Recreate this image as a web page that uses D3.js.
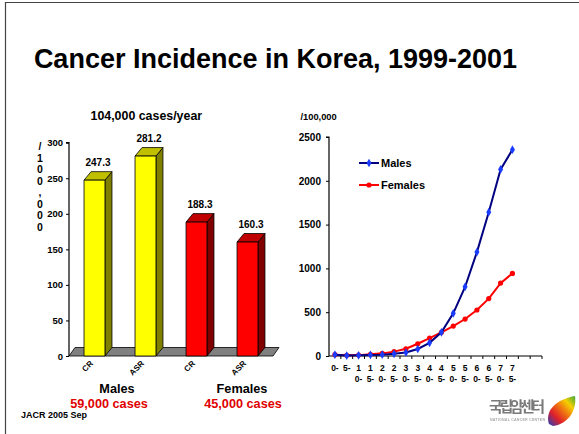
<!DOCTYPE html>
<html>
<head>
<meta charset="utf-8">
<script src="https://cdn.jsdelivr.net/npm/d3@7"></script>
<style>
  html, body { margin: 0; padding: 0; background: #fff; }
  svg { display: block; font-family: "Liberation Sans", Arial, sans-serif; font-weight: bold; }
</style>
</head>
<body>
<svg id="slide" width="579" height="434"></svg>
<script>
// ---- Bar chart data: crude rate (CR) and age-standardised rate (ASR) per 100,000
const barKeys = ["M-CR", "M-ASR", "F-CR", "F-ASR"];
const barLabels = ["CR", "ASR", "CR", "ASR"];
const barValues = [247.3, 281.2, 188.3, 160.3];
const barSex = ["m", "m", "f", "f"];
const barTicks = [0, 50, 100, 150, 200, 250, 300];

// ---- Line chart data: age-specific incidence per 100,000
const ageGroups = ["0-", "5-", "10-", "15-", "20-", "25-", "30-", "35-", "40-", "45-",
                   "50-", "55-", "60-", "65-", "70-", "75-", "80-", "85-"];
const ageLabels = ["0-", "5-", "10-", "15-", "20-", "25-", "30-", "35-", "40-", "45-",
                   "50-", "55-", "60-", "65-", "70-", "75-", "", ""];
const malesRate = [15, 5, 8, 12, 15, 25, 40, 80, 150, 270, 487, 790, 1186, 1642, 2130, 2355];
const femalesRate = [15, 8, 10, 20, 30, 50, 83, 140, 205, 270, 342, 422, 525, 655, 832, 943];
const lineTicks = [0, 500, 1000, 1500, 2000, 2500];

const svg = d3.select("#slide");
const FONT = "Liberation Sans, Arial, sans-serif";

// slide frame
svg.append("path").attr("d", "M5.5,434 V2.5 H579").attr("fill", "none")
  .attr("stroke", "#444").attr("stroke-width", 1.2);

// title
svg.append("text").attr("x", 275.5).attr("y", 68).attr("text-anchor", "middle")
  .attr("font-size", 27).text("Cancer Incidence in Korea, 1999-2001");

// =================== 3D bar chart ===================
const colors = {
  m: { front: "#ffff00", top: "#c0c000", side: "#808000" },
  f: { front: "#ff0000", top: "#c00000", side: "#800000" }
};
const DX = 7, DY = -8.5;
const xb = d3.scaleBand().domain(barKeys).range([69, 273]).paddingInner(0.59).paddingOuter(0.295);
const yb = d3.scaleLinear().domain([0, 300]).range([356, 142.7]);
const base = yb(0);

const bars = svg.append("g");
// floor
bars.append("path")
  .attr("d", `M${xb.range()[0]},${base} L${xb.range()[0] + DX - 1},${base + DY} L${xb.range()[1] + DX - 1},${base + DY} L${xb.range()[1]},${base} Z`)
  .attr("fill", "#808080").attr("stroke", "#000").attr("stroke-width", 0.8);

barKeys.forEach((k, i) => {
  const x0 = xb(k), x1 = x0 + xb.bandwidth(), yt = yb(barValues[i]);
  const c = colors[barSex[i]];
  const g = bars.append("g").attr("stroke", "#000").attr("stroke-width", 0.8).attr("stroke-linejoin", "round");
  g.append("path").attr("fill", c.side)
    .attr("d", `M${x1},${yt} L${x1 + DX},${yt + DY} L${x1 + DX},${base + DY} L${x1},${base} Z`);
  g.append("path").attr("fill", c.top)
    .attr("d", `M${x0},${yt} L${x0 + DX},${yt + DY} L${x1 + DX},${yt + DY} L${x1},${yt} Z`);
  g.append("rect").attr("fill", c.front)
    .attr("x", x0).attr("y", yt).attr("width", x1 - x0).attr("height", base - yt);
  // value label
  bars.append("text").attr("x", (x0 + x1) / 2 + 3.5).attr("y", yt - 14)
    .attr("text-anchor", "middle").attr("font-size", 10).text(barValues[i].toFixed(1));
  // category label
  const cx = (x0 + x1) / 2 - 1;
  bars.append("text").attr("transform", `translate(${cx},${base + 8}) rotate(-45)`)
    .attr("text-anchor", "end").attr("font-size", 8).text(barLabels[i]);
});

// y axis
const yAxisB = d3.axisLeft(yb).tickValues(barTicks).tickFormat(d3.format("d")).tickSize(3).tickPadding(3);
const gyb = svg.append("g").attr("transform", "translate(69,0)").call(yAxisB);
gyb.select(".domain").attr("stroke", "#000").attr("stroke-width", 1.2).attr("d", `M-3,${yb(300)}H0V${base}`);
gyb.selectAll("text").attr("font-size", 9.5).attr("font-family", FONT).attr("font-weight", "bold").attr("fill", "#000");
gyb.selectAll("line").attr("stroke", "#000");

// vertical unit label
const unitChars = ["/", "1", "0", "0", ",", "0", "0", "0"];
svg.append("g").selectAll("text").data(unitChars).join("text")
  .attr("x", 40).attr("y", (d, i) => 150 + i * 11.5)
  .attr("text-anchor", "middle").attr("font-size", 10.5).text(d => d);

svg.append("text").attr("x", 146.3).attr("y", 120).attr("text-anchor", "middle")
  .attr("font-size", 12.4).text("104,000 cases/year");

svg.append("text").attr("x", 117).attr("y", 393).attr("text-anchor", "middle").attr("font-size", 12.7).text("Males");
svg.append("text").attr("x", 109).attr("y", 408).attr("text-anchor", "middle").attr("font-size", 12.7)
  .attr("fill", "#e00000").text("59,000 cases");
svg.append("text").attr("x", 242).attr("y", 393).attr("text-anchor", "middle").attr("font-size", 12.7).text("Females");
svg.append("text").attr("x", 243).attr("y", 408).attr("text-anchor", "middle").attr("font-size", 12.7)
  .attr("fill", "#e00000").text("45,000 cases");

svg.append("text").attr("x", 21).attr("y", 418).attr("font-size", 9).text("JACR 2005 Sep");

// =================== Age-specific line chart ===================
const xl = d3.scaleBand().domain(ageGroups).range([329, 542]);
const yl = d3.scaleLinear().domain([0, 2500]).range([356, 137]);
const cxl = d => xl(d) + xl.bandwidth() / 2;

const gyl = svg.append("g").attr("transform", "translate(329,0)")
  .call(d3.axisLeft(yl).tickValues(lineTicks).tickFormat(d3.format("d")).tickSize(3).tickPadding(5));
gyl.select(".domain").attr("stroke", "#000").attr("stroke-width", 1.2).attr("d", `M-3,${yl(2500)}H0V${yl(0)}`);
gyl.selectAll("line").attr("stroke", "#000");
gyl.selectAll("text").attr("font-size", 10).attr("font-family", FONT).attr("font-weight", "bold").attr("fill", "#000");

// x axis with ticks on category boundaries
const xAxisG = svg.append("g");
xAxisG.append("line").attr("x1", 329).attr("x2", 542).attr("y1", yl(0)).attr("y2", yl(0))
  .attr("stroke", "#000").attr("stroke-width", 1.2);
xAxisG.selectAll("line.tk").data(ageGroups).join("line").attr("class", "tk")
  .attr("x1", d => xl(d) + xl.bandwidth()).attr("x2", d => xl(d) + xl.bandwidth())
  .attr("y1", yl(0)).attr("y2", yl(0) + 3).attr("stroke", "#000");
const xt = xAxisG.selectAll("text").data(ageGroups).join("text")
  .attr("text-anchor", "middle").attr("font-size", 8.5);
xt.each(function (d, i) {
  const lab = ageLabels[i];
  const t = d3.select(this);
  if (!lab) return;
  if (lab.length <= 2) {
    t.append("tspan").attr("x", cxl(d)).attr("y", 371).text(lab);
  } else {
    t.append("tspan").attr("x", cxl(d)).attr("y", 371).text(lab.slice(0, 1));
    t.append("tspan").attr("x", cxl(d)).attr("y", 381.5).text(lab.slice(1));
  }
});

svg.append("text").attr("x", 300.5).attr("y", 120).attr("font-size", 9.3).text("/100,000");

const line = d3.line().x((v, i) => cxl(ageGroups[i])).y(v => yl(v));
const diamond = d3.symbol().type(d3.symbolDiamond).size(22);

const series = [
  { name: "Males", values: malesRate, stroke: "#000080", marker: "#1a3cff", sym: "diamond", ly: 163 },
  { name: "Females", values: femalesRate, stroke: "#ff0000", marker: "#ff0000", sym: "circle", ly: 185 }
];
series.slice().reverse().forEach(s => {
  svg.append("path").datum(s.values).attr("d", line).attr("fill", "none")
    .attr("stroke", s.stroke).attr("stroke-width", 2);
  const pts = svg.append("g");
  s.values.forEach((v, i) => {
    if (s.sym === "diamond") {
      pts.append("path").attr("d", diamond).attr("transform", `translate(${cxl(ageGroups[i])},${yl(v)})`)
        .attr("fill", s.marker);
    } else {
      pts.append("circle").attr("cx", cxl(ageGroups[i])).attr("cy", yl(v)).attr("r", 2.6).attr("fill", s.marker);
    }
  });
});

// legend
series.forEach(s => {
  const g = svg.append("g");
  g.append("line").attr("x1", 359).attr("x2", 379).attr("y1", s.ly).attr("y2", s.ly)
    .attr("stroke", s.stroke).attr("stroke-width", 2);
  if (s.sym === "diamond") {
    g.append("path").attr("d", diamond).attr("transform", `translate(369,${s.ly})`).attr("fill", s.marker);
  } else {
    g.append("circle").attr("cx", 369).attr("cy", s.ly).attr("r", 2.6).attr("fill", s.marker);
  }
  g.append("text").attr("x", 381).attr("y", s.ly + 4).attr("font-size", 11).text(s.name);
});

// =================== Logo ===================
const defs = svg.append("defs");
defs.append("filter").attr("id", "soft").append("feGaussianBlur").attr("stdDeviation", 0.7);
const lg = defs.append("linearGradient").attr("id", "leaf").attr("x1", "0").attr("y1", "1").attr("x2", "1").attr("y2", "0");
[["0", "#1d3fbf"], ["0.3", "#e0202a"], ["0.55", "#f07a10"], ["0.75", "#f5d000"], ["1", "#3aa83a"]]
  .forEach(([o, c]) => lg.append("stop").attr("offset", o).attr("stop-color", c));

const logo = svg.append("g").attr("filter", "url(#soft)");
logo.append("text").attr("x", 489).attr("y", 412).attr("font-size", 15)
  .attr("font-family", "Noto Sans CJK KR, sans-serif").attr("font-weight", "bold")
  .attr("fill", "#7a7a7a").attr("textLength", 56).text("국립암센터");
logo.append("text").attr("x", 490).attr("y", 421).attr("font-size", 3.6)
  .attr("fill", "#aaa").attr("textLength", 55).text("NATIONAL CANCER CENTER");
logo.append("path").attr("fill", "url(#leaf)")
  .attr("d", "M549,424 C545,413 553,400 575,396 C577,409 569,424 553,426 Z");
</script>
</body>
</html>
